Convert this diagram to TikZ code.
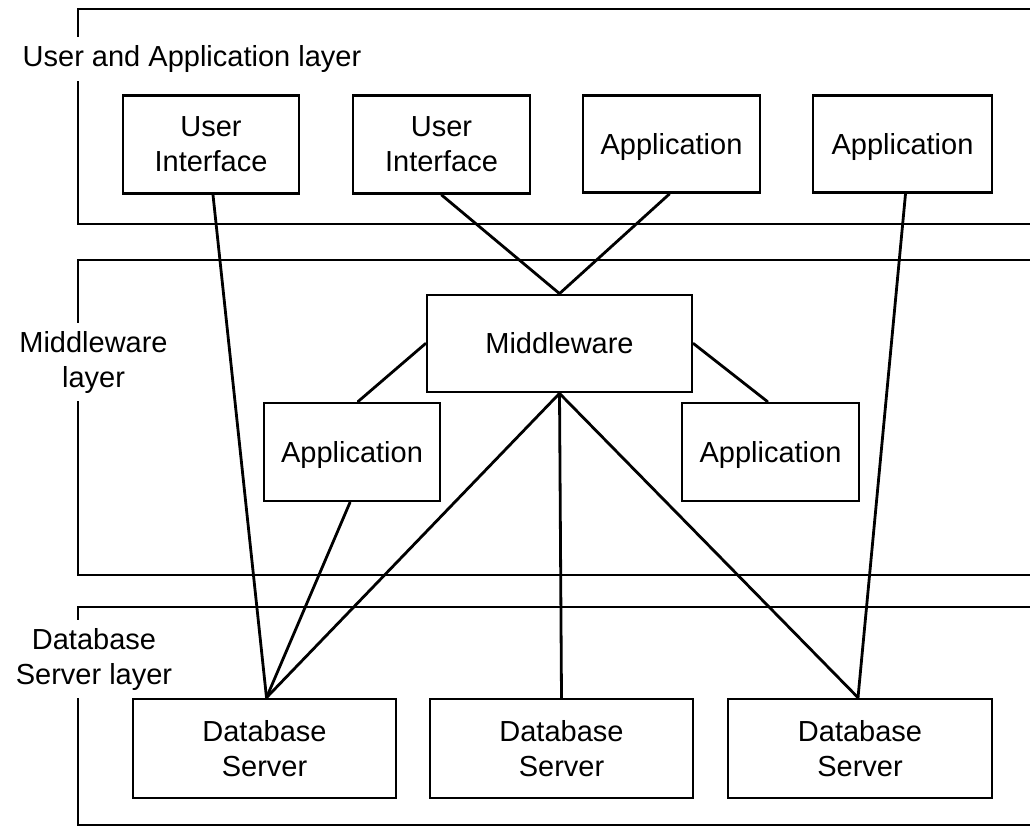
\documentclass[tikz,border=0pt]{standalone}
\usepackage{fontspec}
\setmainfont{Liberation Sans}
\usetikzlibrary{calc}
\begin{document}
\begin{tikzpicture}[x=1pt,y=-1pt,
  lw/.style={line width=2.8pt},
  box/.style={draw, lw, rectangle, inner sep=0pt, align=center, font=\fontsize{29}{35}\selectfont},
  appbox/.style={box, text depth=0pt},
  layerlabel/.style={fill=white, inner xsep=2pt, inner ysep=8pt, align=center, font=\fontsize{29}{35}\selectfont},
  conn/.style={lw, line cap=round}
]
\useasboundingbox (0,0) rectangle (1030,825);
\clip (0,0) rectangle (1030,825);
\fill[white] (0,0) rectangle (1030,825);

% layer frames
\draw[lw] (1100,9) -- (78,9) -- (78,224) -- (1100,224);
\draw[lw] (1100,260) -- (78,260) -- (78,575) -- (1100,575);
\draw[lw] (1100,607) -- (78,607) -- (78,825) -- (1100,825);

% layer labels
\node[layerlabel] (l1) at (192,59) {User and Application layer};
\node[layerlabel] (l2) at (93.5,362) {Middleware\\layer};
\node[layerlabel] (l3) at (94,659) {Database\\Server layer};

% top boxes
\node[box, minimum width=176pt, minimum height=98pt] (ui1) at (211,144.5) {User\\Interface};
\node[box, minimum width=177pt, minimum height=98pt] (ui2) at (441.5,144.5) {User\\Interface};
\node[appbox, minimum width=177pt, minimum height=97pt] (app1) at (671.5,144) {Application};
\node[appbox, minimum width=179pt, minimum height=97pt] (app2) at (902.5,144) {Application};

% middleware layer
\node[box, minimum width=265pt, minimum height=97pt] (mw) at (559.5,343.5) {Middleware};
\node[appbox, minimum width=176pt, minimum height=98pt] (appL) at (352,452) {Application};
\node[appbox, minimum width=177pt, minimum height=98pt] (appR) at (770.5,452) {Application};

% database servers
\node[box, minimum width=263pt, minimum height=99pt] (db1) at (264.5,748.5) {Database\\Server};
\node[box, minimum width=263pt, minimum height=99pt] (db2) at (561.5,748.5) {Database\\Server};
\node[box, minimum width=264pt, minimum height=99pt] (db3) at (860,748.5) {Database\\Server};

% connectors
\draw[conn] ($(ui1.south)+(2,0)$) -- ($(db1.north)+(2,0)$);
\draw[conn] (ui2.south) -- (mw.north);
\draw[conn] ($(app1.south)+(-2,0)$) -- (mw.north);
\draw[conn] ($(app2.south)+(3,0)$) -- ($(db3.north)+(-2,0)$);
\draw[conn] (mw.west) -- ($(appL.north)+(6,0)$);
\draw[conn] (mw.east) -- ($(appR.north)+(-3,0)$);
\draw[conn] ($(appL.south)+(-2,0)$) -- ($(db1.north)+(2,0)$);
\draw[conn] (mw.south) -- ($(db1.north)+(2,0)$);
\draw[conn] (mw.south) -- (db2.north);
\draw[conn] (mw.south) -- ($(db3.north)+(-2,0)$);
\end{tikzpicture}
\end{document}
